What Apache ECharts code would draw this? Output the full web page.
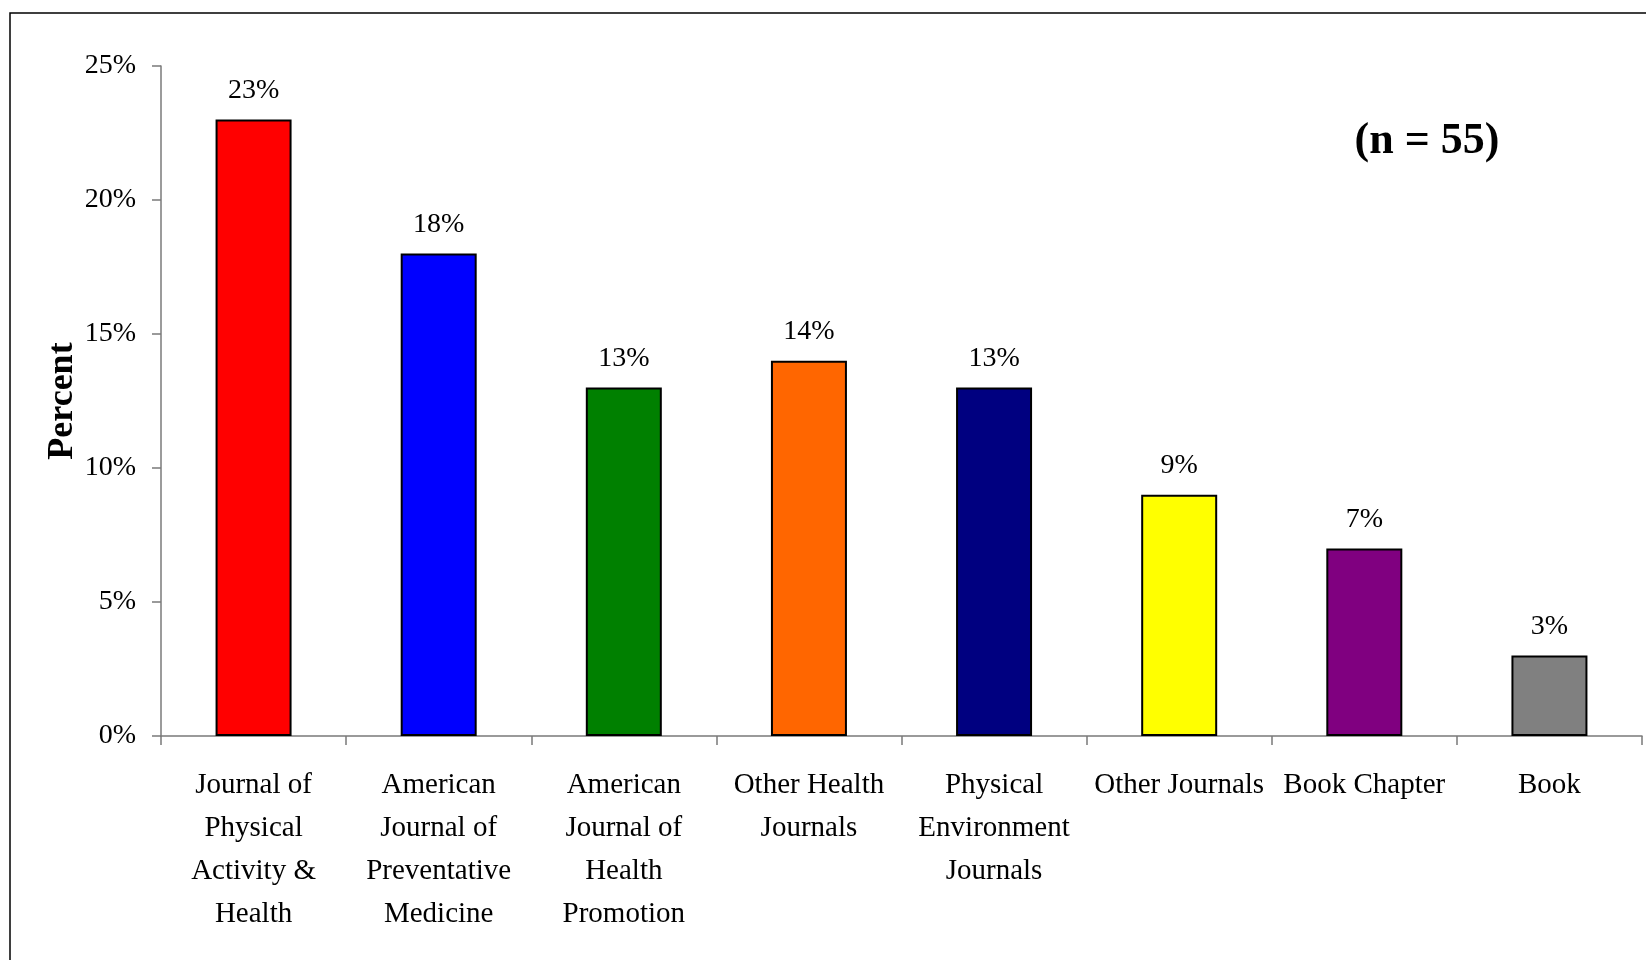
<!DOCTYPE html>
<html>
<head>
<meta charset="utf-8">
<script src="https://cdn.jsdelivr.net/npm/echarts@6/dist/echarts.min.js"></script>
<style>
html,body{margin:0;padding:0;background:#fff;}
#chart{width:1646px;height:960px;}
</style>
</head>
<body>
<div id="chart"></div>
<script>
const categories = [
  "Journal of\nPhysical\nActivity &\nHealth",
  "American\nJournal of\nPreventative\nMedicine",
  "American\nJournal of\nHealth\nPromotion",
  "Other Health\nJournals",
  "Physical\nEnvironment\nJournals",
  "Other Journals",
  "Book Chapter",
  "Book"
];
const percents = [23, 18, 13, 14, 13, 9, 7, 3];
const barColors = ["#FF0000", "#0000FF", "#008000", "#FF6600", "#000080", "#FFFF00", "#800080", "#808080"];
const yTicks = [0, 5, 10, 15, 20, 25];
const annotation = "(n = 55)";
const yTitle = "Percent";

const FONT = "'Liberation Serif', 'DejaVu Serif', serif";
const chart = echarts.init(document.getElementById('chart'), null, {renderer: 'canvas'});
chart.setOption({
  animation: false,
  backgroundColor: '#fff',
  grid: {left: 161, right: 4, top: 66, bottom: 224, containLabel: false},
  graphic: [
    {type: 'rect', shape: {x: 10, y: 13, width: 1700, height: 1000},
     style: {fill: 'none', stroke: '#000', lineWidth: 1.5}, silent: true},
    {type: 'text', x: 1427, y: 142,
     style: {text: annotation, font: "bold 44px 'Liberation Serif', serif", fill: '#000',
             textAlign: 'center', textVerticalAlign: 'middle'}}
  ],
  xAxis: {
    type: 'category',
    data: categories,
    axisLine: {lineStyle: {color: '#7a7a7a', width: 1.5}},
    axisTick: {show: true, length: 9, alignWithLabel: false, lineStyle: {color: '#7a7a7a', width: 1.5}},
    axisLabel: {interval: 0, margin: 28, fontFamily: FONT, fontSize: 29, color: '#000', lineHeight: 43, align: 'center'},
    splitLine: {show: false}
  },
  yAxis: {
    type: 'value',
    min: yTicks[0],
    max: yTicks[yTicks.length - 1],
    interval: 5,
    name: yTitle,
    nameLocation: 'middle',
    nameRotate: 90,
    nameGap: 80,
    nameMoveOverlap: false,
    nameTextStyle: {fontFamily: FONT, fontSize: 36, fontWeight: 'bold', color: '#000'},
    axisLine: {show: true, lineStyle: {color: '#7a7a7a', width: 1.5}},
    axisTick: {show: true, length: 9, lineStyle: {color: '#7a7a7a', width: 1.5}},
    axisLabel: {margin: 25, fontFamily: FONT, fontSize: 28, color: '#000', formatter: v => v + '%'},
    splitLine: {show: false}
  },
  series: [{
    type: 'bar',
    data: percents.map((v, i) => ({value: v, itemStyle: {color: barColors[i]}})),
    barWidth: 76,
    itemStyle: {borderColor: '#000', borderWidth: 2},
    label: {show: true, position: 'top', distance: 15, fontFamily: FONT, fontSize: 28, color: '#000',
            formatter: p => p.value + '%'}
  }]
});
</script>
</body>
</html>
